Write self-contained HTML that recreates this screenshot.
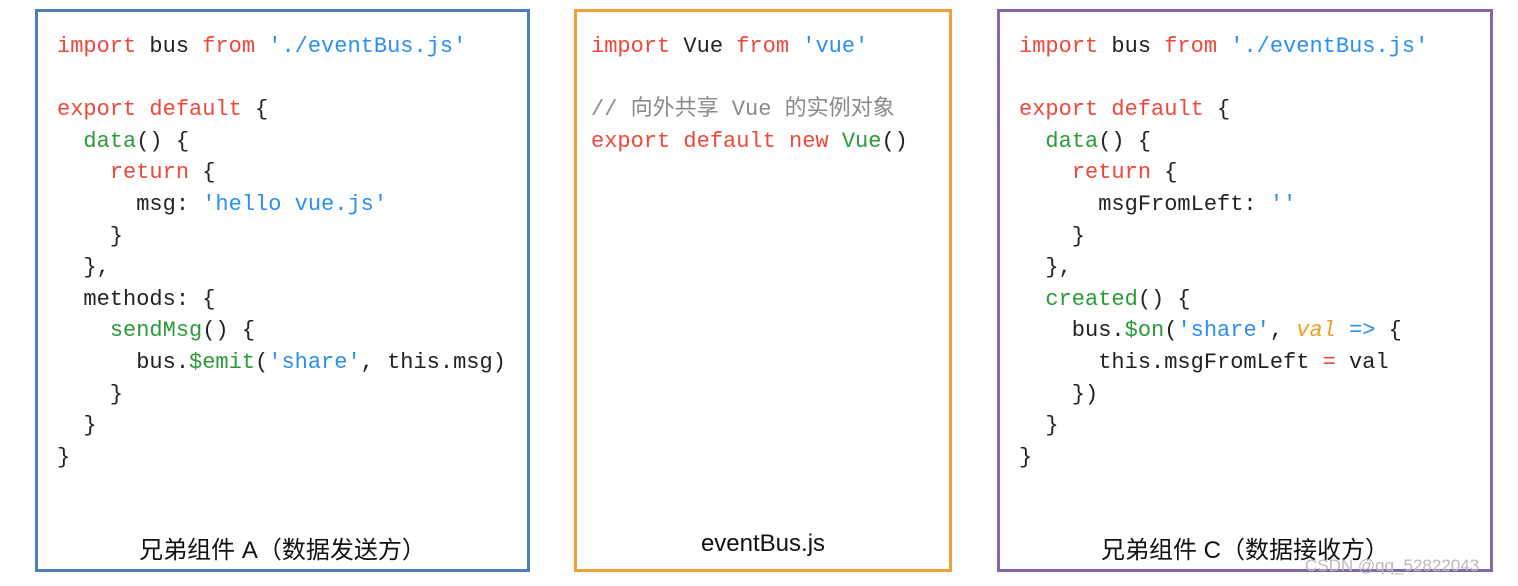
<!DOCTYPE html>
<html><head><meta charset="utf-8"><style>
body{margin:0;width:1518px;height:586px;background:#fff;position:relative;overflow:hidden}
.box{position:absolute;box-sizing:border-box;border:3px solid}
pre{position:absolute;margin:0;font-family:"Liberation Mono","Noto Sans CJK SC",monospace;font-size:22px;line-height:31.6px;color:#222}
.r{color:#f0473a}.g{color:#2a9a3a}.b{color:#2a8ff0}.o{color:#f0a020;font-style:italic}.c{color:#8a8a8a}
.lbl{position:absolute;font-family:"Liberation Sans","Noto Sans CJK SC",sans-serif;font-size:24px;color:#111;text-align:center;top:530px}
</style></head><body>
<div class="box" style="left:35px;top:9px;width:495px;height:563px;border-color:#4f7dbb"></div>
<div class="box" style="left:574px;top:9px;width:378px;height:563px;border-color:#f2a03d"></div>
<div class="box" style="left:997px;top:9px;width:496px;height:563px;border-color:#8466a8"></div>
<pre style="left:57px;top:31px"><span class="r">import</span> bus <span class="r">from</span> <span class="b">'./eventBus.js'</span>

<span class="r">export default</span> {
  <span class="g">data</span>() {
    <span class="r">return</span> {
      msg: <span class="b">'hello vue.js'</span>
    }
  },
  methods: {
    <span class="g">sendMsg</span>() {
      bus.<span class="g">$emit</span>(<span class="b">'share'</span>, this.msg)
    }
  }
}</pre>
<pre style="left:591px;top:31px"><span class="r">import</span> Vue <span class="r">from</span> <span class="b">'vue'</span>

<span class="c">// 向外共享 Vue 的实例对象</span>
<span class="r">export default new</span> <span class="g">Vue</span>()</pre>
<pre style="left:1019px;top:31px"><span class="r">import</span> bus <span class="r">from</span> <span class="b">'./eventBus.js'</span>

<span class="r">export default</span> {
  <span class="g">data</span>() {
    <span class="r">return</span> {
      msgFromLeft: <span class="b">''</span>
    }
  },
  <span class="g">created</span>() {
    bus.<span class="g">$on</span>(<span class="b">'share'</span>, <span class="o">val</span> <span class="b">=&gt;</span> {
      this.msgFromLeft <span class="r">=</span> val
    })
  }
}</pre>
<div class="lbl" style="left:35px;width:495px">兄弟组件 A（数据发送方）</div>
<div class="lbl" style="left:574px;width:378px">eventBus.js</div>
<div class="lbl" style="left:997px;width:496px">兄弟组件 C（数据接收方）</div>
<div style="position:absolute;left:1305px;top:556px;font-family:'Liberation Sans',sans-serif;font-size:17px;color:#bbb">CSDN @qq_52822043</div>
</body></html>
